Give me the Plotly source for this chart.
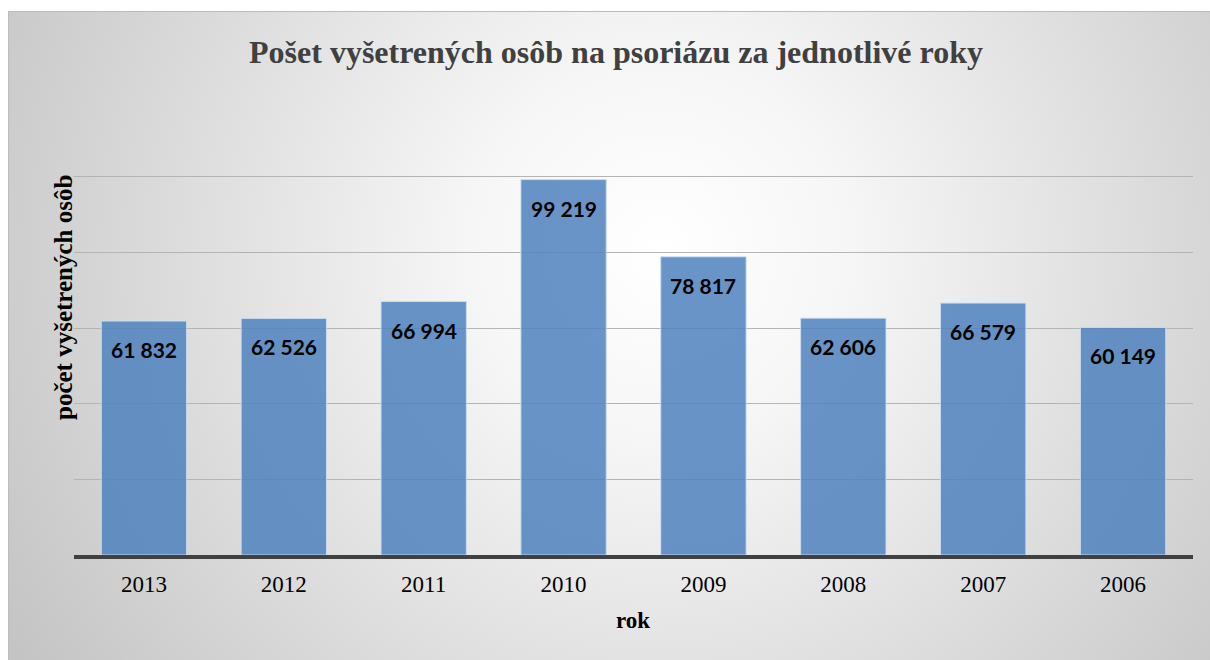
import base64
import plotly.graph_objects as go

years = ["2013", "2012", "2011", "2010", "2009", "2008", "2007", "2006"]
counts = [61832, 62526, 66994, 99219, 78817, 62606, 66579, 60149]
labels = ["61 832", "62 526", "66 994", "99 219", "78 817", "62 606", "66 579", "60 149"]

title_text = "Pošet vyšetrených osôb na psoriázu za jednotlivé roky"
y_title = "počet vyšetrených osôb"
x_title = "rok"

W, H = 1210, 660
L, R, T, B = 74, 17, 101, 105
pw = W - L - R
ph = H - T - B

svg = f'''<svg xmlns="http://www.w3.org/2000/svg" width="{W}" height="{H}" viewBox="0 0 {W} {H}" preserveAspectRatio="none">
<defs><radialGradient id="g" gradientUnits="userSpaceOnUse" cx="660" cy="250" r="760">
<stop offset="0" stop-color="#ffffff"/><stop offset="0.25" stop-color="#f6f6f6"/><stop offset="1" stop-color="#c4c4c4"/></radialGradient></defs>
<rect x="0" y="0" width="{W}" height="{H}" fill="#ffffff"/>
<rect x="8.5" y="11.5" width="{W}" height="{H}" fill="url(#g)" stroke="#bcbcbc" stroke-width="1"/>
</svg>'''
src = "data:image/svg+xml;base64," + base64.b64encode(svg.encode()).decode()

fig = go.Figure()
fig.add_trace(go.Bar(
    x=years, y=counts,
    marker=dict(color="rgba(79,129,189,0.85)", line=dict(color="rgba(205,222,242,0.9)", width=1)),
    width=0.61,
    hoverinfo="skip",
))

for i, (v, lab) in enumerate(zip(counts, labels)):
    fig.add_annotation(x=i, y=v, xref="x", yref="y", text=f"<b>{lab}</b>",
                       showarrow=False, yanchor="top", yshift=-14,
                       font=dict(family="Lato, Open Sans, sans-serif", size=21, color="#000000"))

fig.add_annotation(x=-11 / pw, y=(555 - 298) / ph, xref="paper", yref="paper",
                   text=f"<b>{y_title}</b>", textangle=-90, showarrow=False,
                   xanchor="center", yanchor="middle",
                   font=dict(family="Liberation Serif, Times New Roman, serif", size=25, color="#000000"))
fig.add_annotation(x=(633 - L) / pw, y=-(620 - 555) / ph, xref="paper", yref="paper",
                   text=f"<b>{x_title}</b>", showarrow=False,
                   xanchor="center", yanchor="middle",
                   font=dict(family="Liberation Serif, Times New Roman, serif", size=23, color="#000000"))

fig.add_layout_image(dict(source=src, xref="paper", yref="paper",
                          x=-L / pw, y=1 + T / ph, sizex=W / pw, sizey=H / ph,
                          xanchor="left", yanchor="top", sizing="stretch", layer="below"))

fig.update_layout(
    width=W, height=H,
    margin=dict(l=L, r=R, t=T, b=B),
    paper_bgcolor="#ffffff",
    plot_bgcolor="rgba(0,0,0,0)",
    showlegend=False,
    title=dict(text=f"<b>{title_text}</b>", x=616 / W, y=1 - 52 / H,
               xref="container", yref="container", xanchor="center", yanchor="middle",
               font=dict(family="Liberation Serif, Times New Roman, serif", size=32, color="#404040")),
    xaxis=dict(type="category", showgrid=False, zeroline=False, showline=True,
               range=[-0.5, len(years) - 0.5],
               linecolor="#404040", linewidth=4, ticks="", ticklabelstandoff=5,
               tickfont=dict(family="Liberation Serif, Times New Roman, serif", size=23, color="#000000")),
    yaxis=dict(range=[0, 120000], dtick=20000, showticklabels=False, showgrid=True,
               gridcolor="#b4b4b4", gridwidth=1, zeroline=False, showline=False, ticks=""),
)

fig.write_html("out.html", config={"displayModeBar": False},
               post_script="document.body.style.margin='0';document.body.style.padding='0';")
